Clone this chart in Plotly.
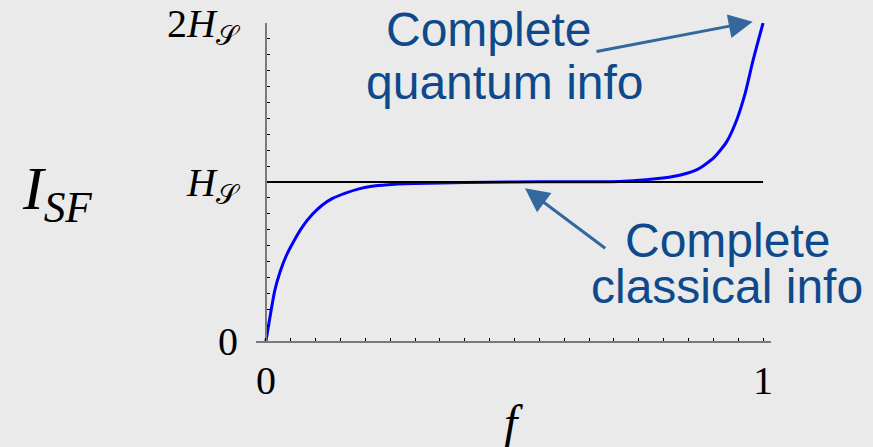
import plotly.graph_objects as go

# Fraction of the environment intercepted, and the mutual information I_SF (in units of H_S)
f_frac = [0.0, 0.009, 0.0175, 0.029, 0.042, 0.056, 0.072, 0.093, 0.113, 0.133,
          0.16, 0.187, 0.21, 0.245, 0.30, 0.40, 0.50, 0.60, 0.712, 0.765,
          0.819, 0.866, 0.90, 0.927, 0.947, 0.964, 0.98, 1.0]
i_sf = [0.0, 0.167, 0.314, 0.44, 0.544, 0.628, 0.712, 0.795, 0.854, 0.895,
        0.93, 0.957, 0.972, 0.983, 0.99, 0.997, 1.0, 1.002, 1.003, 1.014,
        1.034, 1.076, 1.15, 1.254, 1.39, 1.557, 1.766, 2.0]

# Classical plateau at H_S
plateau_f = [0.0, 1.0]
plateau_i = [1.0, 1.0]

x_tick_vals = [0, 1]
x_tick_text = ["0", "1"]
y_tick_vals = [0, 1, 2]
y_tick_text = ["0", "<i>H</i><sub>𝒮</sub>", "2<i>H</i><sub>𝒮</sub>"]

BG = "#EAEAEA"
AXIS = "#7A7A7A"
TXT_BLUE = "#0E4A8B"
ARROW_BLUE = "#33679E"
SERIF = "Liberation Serif, DejaVu Serif, serif"
SANS = "Liberation Sans, Arial, sans-serif"

fig = go.Figure()
fig.add_trace(go.Scatter(x=f_frac, y=i_sf, mode="lines",
                         line=dict(color="#0000FF", width=3, shape="spline", smoothing=0.6),
                         cliponaxis=False, hoverinfo="skip"))
fig.add_trace(go.Scatter(x=plateau_f, y=plateau_i, mode="lines",
                         line=dict(color="black", width=2),
                         cliponaxis=False, hoverinfo="skip"))

W, H = 873, 447
L, R, T, B = 256, 102, 23, 106
x_lo, x_hi = -0.02, 1.016
y_axis_pos = (0 - x_lo) / (x_hi - x_lo)
PW, PH = W - L - R, H - T - B

fig.update_layout(
    width=W, height=H,
    margin=dict(l=L, r=R, t=T, b=B, pad=0),
    paper_bgcolor=BG, plot_bgcolor=BG,
    showlegend=False,
    xaxis=dict(range=[x_lo, x_hi], showgrid=False, zeroline=False, automargin=False,
               showline=True, linecolor=AXIS, linewidth=2,
               tickvals=x_tick_vals, ticktext=x_tick_text,
               ticks="inside", ticklen=3, tickcolor="black", tickwidth=1,
               ticklabelstandoff=3,
               minor=dict(dtick=0.05, tick0=0, ticks="inside", ticklen=3,
                          tickcolor="black", tickwidth=1, showgrid=False),
               tickfont=dict(family=SERIF, size=40, color="black")),
    yaxis=dict(range=[0, 2], showgrid=False, zeroline=False, automargin=False,
               anchor="free", position=y_axis_pos,
               showline=True, linecolor=AXIS, linewidth=2,
               tickvals=y_tick_vals, ticktext=y_tick_text,
               ticks="inside", ticklen=3, tickcolor="black", tickwidth=1,
               ticklabelstandoff=19,
               minor=dict(dtick=0.1, tick0=0, ticks="inside", ticklen=3,
                          tickcolor="black", tickwidth=1, showgrid=False),
               tickfont=dict(family=SERIF, size=40, color="black")),
)


def px_paper(px):
    return (px - L) / PW


def py_paper(py):
    return (H - B - py) / PH


labels = [
    ("Complete", 488.5, 29),
    ("quantum info", 505, 83),
    ("Complete", 727.5, 240),
    ("classical info", 726.5, 286.5),
]
for text, px, py in labels:
    fig.add_annotation(x=px_paper(px), y=py_paper(py), xref="paper", yref="paper",
                       text=text, showarrow=False, xanchor="center", yanchor="middle",
                       font=dict(family=SANS, size=48, color=TXT_BLUE))

# Arrows pointing at the quantum limit and at the classical plateau
arrows = [
    (752.7, 21.7, 595, 51.7),
    (525, 188.3, 606.7, 249.3),
]
for tx, ty, sx, sy in arrows:
    fig.add_annotation(x=px_paper(tx), y=py_paper(ty), xref="paper", yref="paper",
                       ax=sx - tx, ay=sy - ty, axref="pixel", ayref="pixel",
                       text="", showarrow=True, arrowhead=2, arrowsize=1.6,
                       arrowwidth=3, arrowcolor=ARROW_BLUE, standoff=0)

# Axis label f
fig.add_annotation(x=px_paper(513), y=py_paper(422), xref="paper", yref="paper",
                   showarrow=False, text="<i>f</i>", xanchor="center", yanchor="middle",
                   font=dict(family=SERIF, size=48, color="black"))

# Vertical-axis label I_SF
fig.add_annotation(x=px_paper(57), y=py_paper(192), xref="paper", yref="paper",
                   showarrow=False, text="<i>I</i><sub><i>SF</i></sub>",
                   xanchor="center", yanchor="middle",
                   font=dict(family=SERIF, size=62, color="black"))

fig.write_html("out.html")
